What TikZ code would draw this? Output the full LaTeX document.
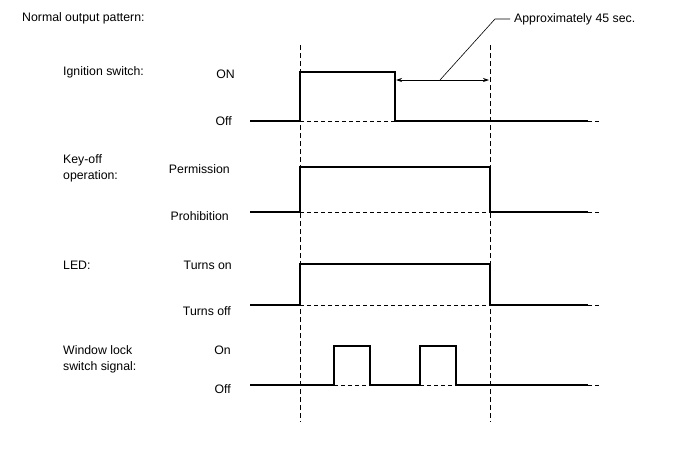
\documentclass[tikz,border=0pt]{standalone}
\usepackage{fontspec}
\setmainfont{Liberation Sans}
\usetikzlibrary{arrows.meta}
\begin{document}
\begin{tikzpicture}[x=1pt,y=-1pt,
  sig/.style={line width=1.4pt},
  ref/.style={line width=0.8pt,dash pattern=on 4pt off 3pt},
  vref/.style={line width=1pt,dash pattern=on 5pt off 3pt},
  lbl/.style={font=\fontsize{12.3}{16}\selectfont,inner sep=0pt},
  st/.style={lbl,anchor=east}]
\useasboundingbox (0,0) rectangle (688,463);
% vertical reference lines
\coordinate (v1t) at (300,45); \coordinate (v1b) at (300,422);
\coordinate (v2t) at (490,45); \coordinate (v2b) at (490,422);
\draw[vref] (v1t) -- (v1b);
\draw[vref] (v2t) -- (v2b);
% titles
\node[lbl,anchor=west] (title) at (22,18) {Normal output pattern:};
\node[lbl,anchor=west] (ign) at (63,72) {Ignition switch:};
\node[lbl,anchor=west,align=left] (key) at (63,168) {Key-off\\operation:};
\node[lbl,anchor=west] (led) at (63,265) {LED:};
\node[lbl,anchor=west,align=left] (win) at (63,359) {Window lock\\switch signal:};
% state labels
\node[st] (ignon) at (235,74) {ON};
\node[st] (ignoff) at (232,121) {Off};
\node[st] (keyon) at (230,169) {Permission};
\node[st] (keyoff) at (229,216) {Prohibition};
\node[st] (ledon) at (232,265) {Turns on};
\node[st] (ledoff) at (231,311) {Turns off};
\node[st] (winon) at (231,350) {On};
\node[st] (winoff) at (231,389) {Off};
% ignition
\draw[ref] (300,121) -- (395,121);
\draw[ref] (588,121) -- (600,121);
\draw[sig] (250,121) -- (300,121) -- (300,72) -- (395,72) -- (395,121) -- (588,121);
% key-off
\draw[ref] (300,212) -- (490,212);
\draw[ref] (588,212) -- (600,212);
\draw[sig] (250,212) -- (300,212) -- (300,167) -- (490,167) -- (490,212) -- (588,212);
% LED
\draw[ref] (300,305) -- (490,305);
\draw[ref] (588,305) -- (600,305);
\draw[sig] (250,305) -- (300,305) -- (300,264) -- (490,264) -- (490,305) -- (588,305);
% window lock
\draw[ref] (334,385) -- (370,385);
\draw[ref] (420,385) -- (456,385);
\draw[ref] (588,385) -- (600,385);
\draw[sig] (250,385) -- (334,385) -- (334,346) -- (370,346) -- (370,385) -- (420,385) -- (420,346) -- (456,346) -- (456,385) -- (588,385);
% dimension
\coordinate (a1) at (396,80); \coordinate (a2) at (489,80);
\draw[line width=0.8pt,{Stealth[length=6pt,width=4pt]}-{Stealth[length=6pt,width=4pt]}] (a1) -- (a2);
\node[lbl,anchor=west] (approx) at (514,19) {Approximately 45 sec.};
\coordinate (lk) at (495,19);
\coordinate (lf) at (440,80);
\draw[line width=0.6pt,shorten >=4pt] (lf) -- (lk) -- (approx.west);
\end{tikzpicture}
\end{document}
